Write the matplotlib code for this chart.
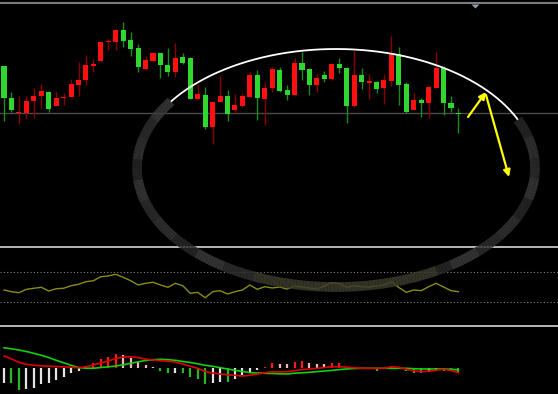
import matplotlib
matplotlib.use("Agg")
import matplotlib.pyplot as plt
import numpy as np
from matplotlib.collections import LineCollection

# daily candles (arbitrary price units), red = up, green = down
opens = [18.43, 15.17, 13.67, 13.67, 14.93, 15.43, 15.83, 14.43, 15.17, 15.33,
         16.50, 16.97, 18.43, 18.90, 20.77, 20.83, 22.00, 21.00, 20.17, 18.10,
         18.93, 19.67, 18.50, 17.83, 19.27, 19.17, 15.07, 15.50, 12.33, 14.83,
         15.43, 14.00, 14.43, 15.33, 17.50, 15.10, 16.17, 18.00, 16.00, 15.50,
         18.67, 18.10, 16.50, 17.50, 17.07, 18.57, 18.23, 14.43, 17.50, 16.73,
         16.83, 16.17, 16.90, 19.57, 16.60, 14.00, 15.00, 14.67, 16.23, 18.23,
         14.73, 13.73]
highs = [18.43, 15.83, 15.40, 15.40, 16.17, 16.57, 15.90, 15.90, 15.67, 17.07,
         18.83, 19.50, 19.07, 20.80, 21.10, 22.10, 22.77, 21.77, 20.57, 19.43,
         19.77, 19.73, 20.17, 20.67, 19.67, 19.33, 16.57, 16.33, 14.90, 17.43,
         16.00, 15.57, 15.70, 17.77, 18.00, 16.83, 18.33, 18.33, 16.50, 19.23,
         19.83, 18.17, 17.57, 17.90, 18.67, 19.17, 18.33, 20.00, 18.17, 17.57,
         16.90, 17.57, 21.43, 20.33, 16.83, 15.67, 15.17, 16.40, 19.83, 18.43,
         15.43, 14.23]
lows = [12.90, 13.83, 12.57, 13.20, 13.23, 14.23, 13.77, 14.43, 14.50, 15.33,
        15.40, 16.50, 17.83, 18.83, 20.00, 20.00, 20.33, 19.43, 17.77, 18.00,
        18.83, 17.23, 17.43, 17.33, 18.57, 15.10, 14.97, 12.10, 10.57, 14.77,
        12.90, 13.67, 14.30, 15.33, 13.00, 12.50, 15.83, 15.77, 15.00, 15.43,
        17.00, 15.50, 15.77, 16.83, 17.00, 17.67, 12.67, 14.33, 16.10, 15.10,
        15.67, 14.57, 16.43, 14.50, 13.67, 14.00, 13.33, 13.17, 16.23, 13.50,
        13.77, 11.67]
closes = [15.17, 14.00, 13.77, 14.93, 15.43, 15.93, 14.10, 15.23, 15.33, 16.57,
          17.00, 18.50, 18.60, 20.77, 20.90, 22.00, 20.93, 20.10, 18.33, 19.00,
          19.67, 18.50, 17.83, 19.23, 18.67, 15.10, 15.57, 12.33, 14.83, 15.40,
          13.60, 14.50, 15.43, 17.50, 15.17, 16.23, 18.07, 15.90, 15.50, 18.67,
          18.00, 16.50, 17.17, 17.10, 18.57, 18.23, 14.43, 17.50, 16.77, 16.90,
          16.10, 17.00, 19.57, 16.50, 13.83, 15.00, 14.67, 16.33, 18.23, 14.67,
          14.17, 13.60]
level = 13.67

rsi = [45.6, 43.3, 42.0, 46.5, 47.9, 49.2, 44.3, 47.3, 47.9, 51.3,
       53.2, 56.7, 58.0, 63.3, 64.3, 66.5, 62.5, 58.0, 52.3, 54.5,
       55.9, 52.3, 49.2, 54.5, 51.3, 41.2, 42.5, 35.3, 43.3, 44.7,
       40.3, 43.3, 45.6, 52.3, 46.5, 50.0, 48.3, 49.6, 46.9, 50.9,
       49.6, 48.3, 46.9, 50.9, 55.3, 54.0, 49.2, 51.3, 50.0, 49.6,
       50.9, 52.3, 56.7, 48.9, 42.5, 45.6, 44.7, 50.0, 54.5, 49.6,
       44.7, 43.3]

macd = [0.123, 0.093, 0.060, 0.040, 0.030, 0.025, 0.021, 0.018, 0.015, 0.011,
        0.006, 0.016, 0.033, 0.053, 0.073, 0.098, 0.113, 0.116, 0.108, 0.091,
        0.083, 0.076, 0.071, 0.063, 0.043, 0.020, 0.000, -0.032, -0.047, -0.057,
        -0.064, -0.070, -0.077, -0.070, -0.057, -0.045, -0.034, -0.037, -0.034, -0.024,
        -0.013, -0.007, -0.001, 0.008, 0.015, 0.016, 0.011, 0.005, 0.001, 0.000,
        0.000, 0.000, 0.015, 0.010, -0.010, -0.025, -0.034, -0.029, -0.019, -0.010,
        -0.023, -0.044]
signal = [0.205, 0.195, 0.183, 0.168, 0.150, 0.130, 0.108, 0.080, 0.055, 0.030,
          0.008, 0.001, 0.000, 0.008, 0.015, 0.023, 0.035, 0.050, 0.065, 0.078,
          0.086, 0.090, 0.086, 0.080, 0.068, 0.058, 0.045, 0.030, 0.020, 0.006,
          -0.007, -0.020, -0.032, -0.044, -0.047, -0.050, -0.052, -0.055, -0.057, -0.049,
          -0.045, -0.040, -0.033, -0.027, -0.021, -0.013, -0.007, -0.002, 0.000, 0.000,
          0.000, 0.000, 0.000, 0.000, 0.000, -0.004, -0.007, -0.007, -0.007, -0.008,
          -0.010, -0.017]
hist = [-0.150, -0.150, -0.217, -0.210, -0.193, -0.160, -0.150, -0.117, -0.083, -0.050,
        -0.023, 0.023, 0.050, 0.090, 0.117, 0.140, 0.133, 0.100, 0.067, 0.030,
        0.010, -0.023, -0.050, -0.048, -0.050, -0.090, -0.110, -0.157, -0.150, -0.133,
        -0.136, -0.110, -0.067, -0.033, -0.017, 0.017, 0.050, 0.043, 0.040, 0.067,
        0.073, 0.050, 0.048, 0.043, 0.050, 0.053, 0.010, -0.005, -0.010, -0.008,
        -0.023, -0.010, 0.010, 0.005, -0.023, -0.043, -0.050, -0.040, -0.017, -0.023,
        -0.025, -0.050]

W, H = 558, 394
STEP = 7.45  # pixels per candle
x = np.arange(len(opens))
xlim = (-4 / STEP, (W - 4) / STEP)

fig = plt.figure(figsize=(W / 100, H / 100), dpi=100, facecolor='black')


def panel(top, bottom, ylim):
    ax = fig.add_axes([0, 1 - bottom / H, 1, (bottom - top) / H])
    ax.set_facecolor('black')
    ax.set_xlim(*xlim)
    ax.set_ylim(*ylim)
    ax.axis('off')
    return ax


# price panel
ax1 = panel(5, 246, (0.4, 24.5))
o = np.array(opens)
c = np.array(closes)
up = c >= o
body_col = np.where(up, '#ff1010', '#2ed82e')
wick_col = np.where(up, '#8a0000', '#1c8a1c')
ax1.axhline(level, color='#4c4c4c', lw=1, zorder=1)
ax1.vlines(x, lows, highs, colors=wick_col, lw=1, zorder=2)
ax1.bar(x, np.maximum(np.abs(c - o), 0.13), bottom=np.minimum(o, c),
        width=0.68, color=body_col, zorder=3)

# RSI panel
ax2 = panel(248, 325, (-1.07, 101.6))
for lvl in (70, 30):
    ax2.axhline(lvl, color='#808080', lw=0.8, ls=(0, (1, 2)))
ax2.plot(x, rsi, color='#8c8c14', lw=1)

# MACD panel
ax3 = panel(327, 394, (-0.257, 0.413))
h = np.array(hist)
prev = np.concatenate([[h[0] + 0.001 * np.sign(h[0])], h[:-1]])
hcol = []
for v, p in zip(h, prev):
    if v >= 0:
        hcol.append('#ff1a1a' if v >= p else '#f4b8b8')
    else:
        hcol.append('#26b826' if v <= p else '#e4e4e4')
ax3.vlines(x, 0, h, colors=hcol, lw=1.6)
ax3.plot(x, signal, color='#10d010', lw=1.2)
ax3.plot(x, macd, color='#e00000', lw=1.2)

# overlay: frame lines and hand-drawn annotations (pixel coordinates)
ov = fig.add_axes([0, 0, 1, 1], zorder=10)
ov.set_xlim(0, W)
ov.set_ylim(H, 0)
ov.axis('off')
ov.axhline(3.3, color='#7c7c7c', lw=1.5)
ov.fill([471.5, 479.5, 475.5], [4.5, 4.5, 8.5], color='#8fa0b4', lw=0)
for yy in (247, 326):
    ov.axhline(yy, color='#b8b8b8', lw=1.4)

cx, cy, ra, rb = 336, 168, 199, 119
t = np.radians(np.linspace(24, 146, 200))
ov.plot(cx + ra * np.cos(t), cy - rb * np.sin(t), color='white', lw=1.3)

t = np.radians(np.linspace(146, 384, 240))
px = cx + ra * np.cos(t)
py = cy - rb * np.sin(t)
pts = np.column_stack([px, py]).reshape(-1, 1, 2)
segs = np.concatenate([pts[:-1], pts[1:]], axis=1)
shades = ['#3a3a3a', '#2e2e2e', '#343434', '#282828']
seg_col = []
for k, tt in enumerate(np.degrees(t[:-1])):
    if 245 < tt < 300:
        seg_col.append('#3a3a2c')
    else:
        seg_col.append(shades[(k // 10) % len(shades)])
ov.add_collection(LineCollection(segs, colors=seg_col, linewidths=7,
                                 alpha=0.88, capstyle='butt'))

arrow = dict(arrowstyle='-|>', color='#ffff00', lw=1.6, mutation_scale=10,
             shrinkA=0, shrinkB=0)
ov.annotate('', xy=(486, 92), xytext=(468, 117), arrowprops=arrow)
ov.annotate('', xy=(509, 177), xytext=(486, 95), arrowprops=arrow)

fig.savefig('out.png', dpi=100, facecolor='black')
